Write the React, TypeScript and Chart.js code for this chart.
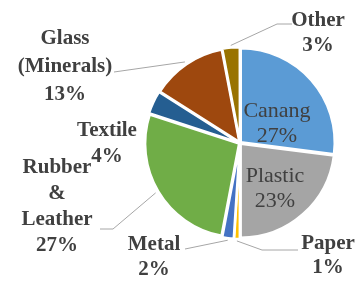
import { useEffect, useRef } from "react";
import { Chart, registerables } from "chart.js";

Chart.register(...registerables);

const categories = ["Canang", "Plastic", "Paper", "Metal", "Rubber & Leather", "Textile", "Glass (Minerals)", "Other"];
const shares = [27, 23, 1, 2, 27, 4, 13, 3];
const nameLines = [["Canang"], ["Plastic"], ["Paper"], ["Metal"], ["Rubber", "&", "Leather"], ["Textile"], ["Glass", "(Minerals)"], ["Other"]];
const colors = ["#5B9BD5", "#A5A5A5", "#FFC000", "#4472C4", "#70AD47", "#255E91", "#9E480E", "#997300"];

type Layout = { x: number; y: number; lh: number; inside: boolean; leader: number[][] | null };
const labelLayout: Layout[] = [
  { x: 277, y: 111, lh: 25, inside: true, leader: null },
  { x: 275, y: 176, lh: 25, inside: true, leader: null },
  { x: 328, y: 244, lh: 24, inside: false, leader: [[262, 250], [298, 250]] },
  { x: 154, y: 245, lh: 25, inside: false, leader: [[185, 249]] },
  { x: 57, y: 168, lh: 26, inside: false, leader: [[113, 229], [100, 229]] },
  { x: 107, y: 131, lh: 26, inside: false, leader: null },
  { x: 65, y: 39, lh: 28, inside: false, leader: [[114, 72]] },
  { x: 318, y: 21, lh: 25, inside: false, leader: [[277, 24], [292, 24]] },
];

const labelPlugin = {
  id: "sliceLabels",
  afterDraw(chart: any) {
    const ctx = chart.ctx;
    const meta = chart.getDatasetMeta(0);
    const ds = chart.data.datasets[0];
    ctx.save();
    meta.data.forEach((arc: any, i: number) => {
      const lay = labelLayout[i];
      const p = arc.getProps(["x", "y", "startAngle", "endAngle", "outerRadius"], true);
      const mid = (p.startAngle + p.endAngle) / 2;
      const off = ds.offset || 0;
      if (lay.leader) {
        const r = p.outerRadius + off;
        ctx.beginPath();
        ctx.strokeStyle = "#A6A6A6";
        ctx.lineWidth = 1;
        ctx.moveTo(p.x + Math.cos(mid) * r, p.y + Math.sin(mid) * r);
        lay.leader.forEach((pt) => ctx.lineTo(pt[0], pt[1]));
        ctx.stroke();
      }
      const lines = [...nameLines[i], `${shares[i]}%`];
      ctx.fillStyle = "#404040";
      ctx.textAlign = "center";
      ctx.textBaseline = "middle";
      ctx.font = lay.inside ? "22px 'Liberation Serif'" : "bold 21px 'Liberation Serif'";
      lines.forEach((t, k) => ctx.fillText(t, lay.x, lay.y + k * lay.lh));
    });
    ctx.restore();
  },
};

export default function App() {
  const ref = useRef<HTMLCanvasElement | null>(null);
  useEffect(() => {
    if (!ref.current) return;
    const chart = new Chart(ref.current, {
      type: "pie",
      data: {
        labels: categories,
        datasets: [
          {
            data: shares,
            backgroundColor: colors,
            borderColor: "#FFFFFF",
            borderWidth: 2.5,
            offset: 4,
          },
        ],
      },
      options: {
        animation: false,
        responsive: false,
        radius: 94,
        layout: { padding: { left: 121, right: 0, top: 4, bottom: 0 } },
        plugins: { legend: { display: false }, tooltip: { enabled: false } },
      } as any,
      plugins: [labelPlugin],
    });
    return () => chart.destroy();
  }, []);
  return (
    <div style={{ position: "fixed", left: 0, top: 0, width: 359, height: 282, background: "#fff" }}>
      <canvas ref={ref} width={359} height={282} style={{ display: "block" }} />
    </div>
  );
}
